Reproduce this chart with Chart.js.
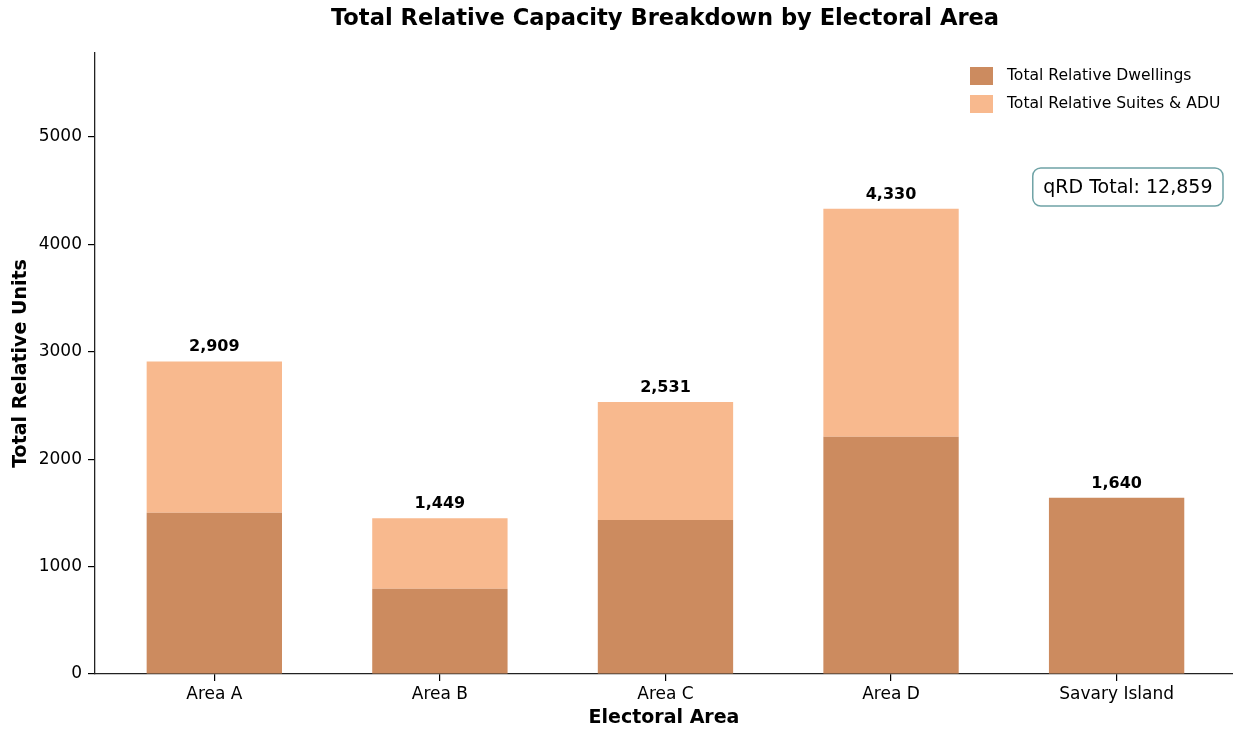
<!DOCTYPE html>
<html>
<head>
<meta charset="utf-8">
<script src="https://cdn.jsdelivr.net/npm/chart.js@4.4.0/dist/chart.umd.min.js"></script>
<style>
  html, body { margin: 0; padding: 0; background: #fff; }
</style>
</head>
<body>
<canvas id="capChart" width="1233" height="729"></canvas>
<script>
// values
const areas = ['Area A', 'Area B', 'Area C', 'Area D', 'Savary Island'];
const dwellings = [1500, 794, 1433, 2208, 1640];
const suites = [1409, 655, 1098, 2122, 0];
const yTicks = [0, 1000, 2000, 3000, 4000, 5000];
const seriesNames = ['Total Relative Dwellings', 'Total Relative Suites & ADU'];
const colors = ['#CC8B5F', '#F8B98E'];

const totals = areas.map((_, i) => dwellings[i] + suites[i]);
const grandTotal = totals.reduce((a, b) => a + b, 0);
const fmt = v => v.toLocaleString('en-US');
const FONT = "'DejaVu Sans', sans-serif";

const overlay = {
  id: 'overlay',
  afterDraw(chart) {
    const { ctx, chartArea: area, scales: { x, y } } = chart;
    ctx.save();
    ctx.fillStyle = '#000';

    // title, centred over the axes
    ctx.font = 'bold 22.6px ' + FONT;
    ctx.textAlign = 'center';
    ctx.textBaseline = 'middle';
    ctx.fillText('Total Relative Capacity Breakdown by Electoral Area', (area.left + area.right) / 2 + 1, 19);

    // total labels on top of each stack
    ctx.font = 'bold 16px ' + FONT;
    ctx.textBaseline = 'alphabetic';
    totals.forEach((t, i) => {
      ctx.fillText(fmt(t), x.getPixelForValue(i), y.getPixelForValue(t) - 10);
    });

    // legend, upper right
    ctx.font = '15.6px ' + FONT;
    ctx.textAlign = 'left';
    ctx.textBaseline = 'middle';
    seriesNames.forEach((name, i) => {
      const cy = 76 + i * 28;
      ctx.fillStyle = colors[i];
      ctx.fillRect(area.right - 263, cy - 9, 23, 18);
      ctx.fillStyle = '#000';
      ctx.fillText(name, area.right - 226, cy);
    });

    // grand total box
    const label = 'qRD Total: ' + fmt(grandTotal);
    ctx.font = '19px ' + FONT;
    const w = ctx.measureText(label).width + 21;
    const h = 38;
    const bx = area.right - 10 - w, by = 168;
    ctx.beginPath();
    ctx.roundRect(bx, by, w, h, 8);
    ctx.fillStyle = '#fff';
    ctx.fill();
    ctx.lineWidth = 1.5;
    ctx.strokeStyle = '#6FA3A6';
    ctx.stroke();
    ctx.fillStyle = '#000';
    ctx.textAlign = 'center';
    ctx.fillText(label, bx + w / 2, by + h / 2 + 1);
    ctx.restore();
  }
};

const ctx = document.getElementById('capChart').getContext('2d');
new Chart(ctx, {
  type: 'bar',
  data: {
    datasets: [
      {
        label: seriesNames[0],
        data: dwellings.map((v, i) => ({ x: i, y: v })),
        backgroundColor: colors[0],
        borderWidth: 0
      },
      {
        label: seriesNames[1],
        data: suites.map((v, i) => ({ x: i, y: v })),
        backgroundColor: colors[1],
        borderWidth: 0
      }
    ]
  },
  options: {
    responsive: false,
    animation: false,
    layout: { padding: { top: 53, right: 0, left: 0, bottom: 0 } },
    datasets: { bar: { barPercentage: 0.6, categoryPercentage: 1 } },
    plugins: {
      legend: { display: false },
      tooltip: { enabled: false }
    },
    scales: {
      x: {
        type: 'linear',
        stacked: true,
        offset: false,
        min: -0.529,
        max: 4.516,
        afterBuildTicks: s => { s.ticks = areas.map((_, i) => ({ value: i })); },
        afterFit: s => { s.height = 55; },
        ticks: {
          callback: v => areas[v],
          color: '#000',
          font: { family: FONT, size: 17 },
          padding: 3,
          maxRotation: 0,
          autoSkip: false
        },
        grid: { display: true, offset: false, drawOnChartArea: false, drawTicks: true, tickLength: 7, color: '#000', lineWidth: 1.2 },
        border: { display: true, color: '#222', width: 1.3 },
        title: {
          display: true,
          text: 'Electoral Area',
          color: '#000',
          font: { family: FONT, size: 19, weight: 'bold' },
          padding: { top: 0, bottom: 0 }
        }
      },
      y: {
        stacked: true,
        min: 0,
        max: 5780,
        afterBuildTicks: s => { s.ticks = yTicks.map(v => ({ value: v })); },
        afterFit: s => { s.width = 95; },
        ticks: {
          callback: v => String(v),
          color: '#000',
          font: { family: FONT, size: 17 },
          padding: 6
        },
        grid: { display: true, drawOnChartArea: false, drawTicks: true, tickLength: 7, color: '#000', lineWidth: 1.2 },
        border: { display: true, color: '#222', width: 1.3 },
        title: {
          display: true,
          text: 'Total Relative Units',
          color: '#000',
          font: { family: FONT, size: 19, weight: 'bold' },
          padding: { top: 10, bottom: 0 }
        }
      }
    }
  },
  plugins: [overlay]
});
</script>
</body>
</html>
